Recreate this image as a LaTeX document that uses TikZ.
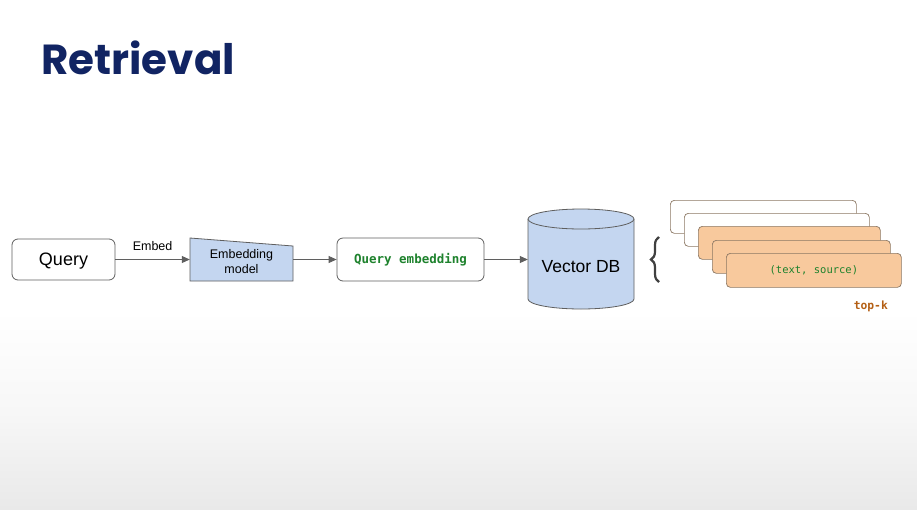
\documentclass[tikz,border=0pt]{standalone}
\usepackage{fontspec}
\setmainfont{Liberation Sans}
\newfontfamily\titlefont{Poppins}[UprightFont=* Bold]
\newfontfamily\monofont{DejaVu Sans Mono}
\usetikzlibrary{arrows.meta,decorations.pathreplacing}
\definecolor{titleblue}{RGB}{17,36,99}
\definecolor{boxblue}{RGB}{196,214,240}
\definecolor{edgegray}{RGB}{95,95,95}
\definecolor{codegreen}{RGB}{30,130,45}
\definecolor{cardorange}{RGB}{248,201,157}
\definecolor{cardedge}{RGB}{140,120,100}
\definecolor{topk}{RGB}{180,95,20}
\definecolor{bggray}{RGB}{233,233,233}
\tikzset{
  rbox/.style={draw=edgegray, line width=0.8pt, rounded corners=6pt, fill=white},
  conn/.style={draw=edgegray, line width=0.8pt, -{Triangle[length=8pt,width=7pt]}},
  card/.style={draw=cardedge, line width=0.7pt, rounded corners=4pt, minimum height=33pt, anchor=north west, inner sep=0pt},
}
\begin{document}
\begin{tikzpicture}[x=1pt,y=-1pt]
\useasboundingbox (0,0) rectangle (917,509);
\fill[white] (0,0) rectangle (917,509);
\shade[top color=white, bottom color=bggray, middle color=bggray!35] (0,310) rectangle (917,509);

\node[anchor=base west, inner sep=0pt, text=titleblue, font=\titlefont\fontsize{42}{50}\selectfont] (title) at (41,74) {Retrieval};

% Query
\node[rbox, minimum width=103pt, minimum height=41pt, text depth=0pt, font=\fontsize{18}{20}\selectfont] (query) at (63.5,259.5) {Query};

% Embedding model trapezoid
\filldraw[fill=boxblue, draw=edgegray, line width=0.8pt] (190,238) -- (293,246) -- (293,281) -- (190,281) -- cycle;
\node[minimum width=103pt, minimum height=43pt, inner sep=0pt, align=center, font=\fontsize{12.5}{15}\selectfont] (emb) at (241.5,262) {Embedding\\model};

% Query embedding
\node[rbox, minimum width=147pt, minimum height=43pt, text=codegreen, font=\monofont\bfseries\fontsize{12.5}{14}\selectfont] (qe) at (410.5,259.5) {Query embedding};

% Vector DB cylinder
\fill[boxblue] (528,219) -- (528,299) arc[start angle=180, end angle=0, x radius=53, y radius=10] -- (634,219) -- cycle;
\draw[edgegray, line width=0.8pt] (528,219) -- (528,299) arc[start angle=180, end angle=0, x radius=53, y radius=10] -- (634,219);
\filldraw[fill=boxblue, draw=edgegray, line width=0.8pt] (581,219) ellipse [x radius=53, y radius=10];
\node[minimum width=106pt, minimum height=80pt, inner sep=0pt, text depth=0pt, font=\fontsize{17.5}{20}\selectfont] (db) at (581,266) {Vector DB};

% arrows
\draw[conn] (query.east) -- node[above=5pt, font=\fontsize{12.5}{14}\selectfont, text=black] (embedlbl) {Embed} (emb.west |- query.east);
\draw[conn] (emb.east |- query.east) -- (qe.west);
\draw[conn] (qe.east) -- (db.west |- qe.east);

% brace
\coordinate (bt) at (659,237);
\coordinate (bb) at (659,282);
\draw[decorate, decoration={brace, amplitude=8pt}, line width=2.2pt, draw=black!75] (bb) -- (bt);

% cards
\node[card, fill=white, minimum width=186pt] (c1) at (670,200) {};
\node[card, fill=white, minimum width=185pt] (c2) at (684,213) {};
\node[card, fill=cardorange, minimum width=182pt] (c3) at (698,226) {};
\node[card, fill=cardorange, minimum width=178pt] (c4) at (712,240) {};
\node[card, fill=cardorange, minimum width=175pt, minimum height=34pt, text=codegreen, font=\monofont\fontsize{10.5}{12}\selectfont] (c5) at (726,253) {(text, source)};

\node[anchor=base east, inner sep=0pt, text=topk, font=\monofont\bfseries\fontsize{11.3}{13}\selectfont] (topk) at (888,309) {top-k};
\end{tikzpicture}
\end{document}
